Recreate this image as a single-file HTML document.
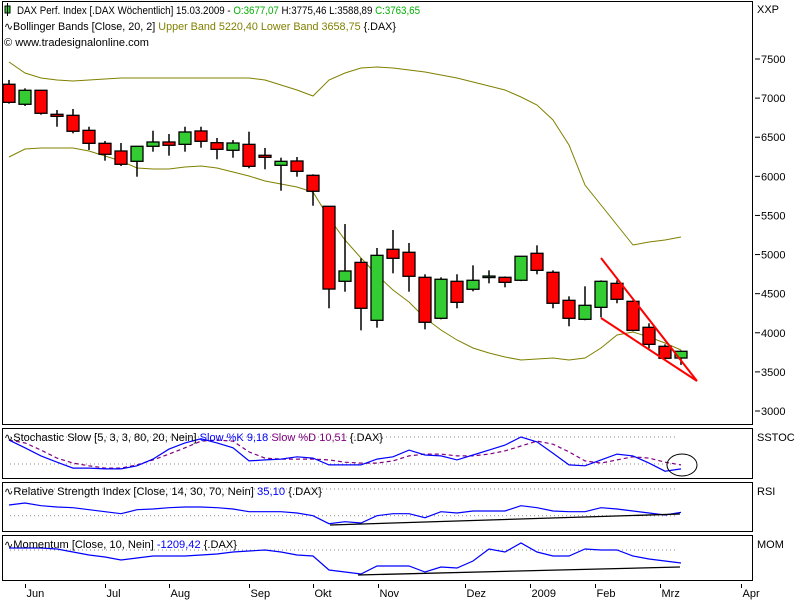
<!DOCTYPE html>
<html><head><meta charset="utf-8"><style>
html,body{margin:0;padding:0;background:#fff;}
svg{display:block;font-family:"Liberation Sans","DejaVu Sans",sans-serif;}
</style></head><body>
<svg id="chart" width="800" height="600" viewBox="0 0 800 600" xmlns="http://www.w3.org/2000/svg">
<rect x="0" y="0" width="800" height="600" fill="#fff"/>
<rect x="2.5" y="1.5" width="750" height="423" fill="none" stroke="#000"/>
<rect x="2.5" y="428.5" width="750" height="50" fill="none" stroke="#000"/>
<rect x="2.5" y="482.5" width="750" height="49" fill="none" stroke="#000"/>
<rect x="2.5" y="535.5" width="750" height="45" fill="none" stroke="#000"/>
<g id="price-axis" font-size="11"></g>
<g id="bands"></g>
<g id="candles"></g>
<g stroke="#ff0000" stroke-width="2" fill="none">
<line x1="601" y1="258" x2="697" y2="381"/><line x1="601" y1="318" x2="697" y2="381"/></g>
<g id="ind"></g>
<ellipse cx="682" cy="465" rx="15" ry="11" fill="none" stroke="#000"/>
<g id="xaxis" font-size="11"></g>
<g font-size="11" fill="#000">
<rect x="5" y="6" width="5" height="7" fill="#33cc33" stroke="#000"/>
<line x1="7.5" y1="3" x2="7.5" y2="16" stroke="#000"/>
<text x="17" y="14" textLength="403" lengthAdjust="spacingAndGlyphs">DAX Perf. Index [.DAX  Wöchentlich] 15.03.2009 - <tspan fill="#00b000">O:3677,07</tspan> H:3775,46 L:3588,89 <tspan fill="#00b000">C:3763,65</tspan></text>
<text x="4" y="30" textLength="392" lengthAdjust="spacingAndGlyphs">∿Bollinger Bands [Close, 20, 2] <tspan fill="#808000">Upper Band 5220,40 Lower Band 3658,75</tspan> {.DAX}</text>
<text x="4" y="46" textLength="145" lengthAdjust="spacingAndGlyphs">© www.tradesignalonline.com</text>
<text x="4" y="441" textLength="379" lengthAdjust="spacingAndGlyphs">∿Stochastic Slow [5, 3, 3, 80, 20, Nein] <tspan fill="#0000ff">Slow %K 9,18</tspan> <tspan fill="#800080">Slow %D 10,51</tspan> {.DAX}</text>
<text x="4" y="495" textLength="318" lengthAdjust="spacingAndGlyphs">∿Relative Strength Index [Close, 14, 30, 70, Nein] <tspan fill="#0000ff">35,10</tspan> {.DAX}</text>
<text x="4" y="548" textLength="233" lengthAdjust="spacingAndGlyphs">∿Momentum [Close, 10, Nein] <tspan fill="#0000ff">-1209,42</tspan> {.DAX}</text>
<text x="757" y="13">XXP</text>
<text x="757" y="441">SSTOC</text>
<text x="757" y="495">RSI</text>
<text x="757" y="548">MOM</text>
</g>
</svg>
<script>
const opens=[7177,6921,7100,6793,6780,6588,6422,6324,6192,6384,6439,6409,6580,6430,6333,6409,6269,6141,6196,6013,5617,4658,4900,4159,5067,5029,4709,4185,4658,4556,4715,4709,4671,5016,4773,4415,4172,4325,4632,4402,4070,3827,3677];
const highs=[7232,7125,7100,6848,6861,6634,6452,6426,6384,6583,6541,6634,6634,6490,6464,6571,6362,6238,6247,6026,5617,5390,4952,5084,5314,5148,4748,4709,4748,4862,4798,4720,4980,5118,4798,4466,4594,4670,4671,4415,4121,3852,3775];
const lows=[6929,6899,6788,6634,6550,6337,6200,6132,5995,6315,6264,6315,6366,6218,6238,6103,6090,5816,5995,5624,4313,4525,4031,4065,4760,4525,4044,4172,4313,4530,4632,4581,4660,4748,4313,4083,4160,4197,4377,4020,3801,3648,3589];
const closes=[6946,7100,6806,6767,6576,6422,6282,6154,6384,6439,6397,6567,6448,6345,6426,6128,6243,6192,6064,5809,4559,4790,4313,4990,4952,4722,4134,4684,4389,4671,4725,4645,4978,4798,4377,4185,4351,4658,4428,4031,3852,3674,3763];
const upperBand=[7462,7321,7257,7232,7219,7232,7244,7257,7257,7257,7257,7257,7257,7257,7257,7257,7232,7168,7104,7027,7232,7321,7385,7398,7385,7359,7334,7295,7257,7206,7155,7104,7014,6912,6720,6400,5889,5633,5378,5122,5160,5186,5224];
const lowerBand=[6247,6349,6362,6362,6362,6324,6260,6196,6106,6094,6094,6119,6132,6106,6055,6004,5940,5902,5863,5799,5467,5186,4956,4738,4547,4393,4189,4035,3908,3805,3741,3690,3652,3665,3677,3652,3677,3805,3971,4010,3946,3869,3780];
const priceTicks=[3000,3500,4000,4500,5000,5500,6000,6500,7000,7500];
const stochK=[73,56,38,24,11,11,9,9,16,31,53,67,76,67,56,27,29,31,36,33,18,18,18,31,36,51,40,38,29,40,51,62,80,69,44,18,16,29,42,38,22,4,9];
const stochD=[73,67,51,33,22,16,11,11,18,29,42,56,71,73,71,47,33,31,31,31,29,24,22,22,27,38,42,42,38,38,42,49,60,71,64,47,27,22,29,36,33,24,18];
const rsi=[46,49,45,43,42,39,36,33,39,40,42,43,43,42,40,36,36,36,34,30,18,21,19,30,33,33,27,36,34,37,37,37,45,42,37,36,36,42,40,37,34,31,35];
const momentum=[186,186,186,93,-186,-465,-651,-930,-744,-558,-558,-558,-465,-372,-186,-93,0,-186,-465,-558,-1860,-2046,-2232,-1488,-1488,-1488,-2046,-1581,-1674,-1023,93,-186,651,-186,-558,-558,93,0,0,-558,-837,-1023,-1209];
const monthLabels=["Jun","Jul","Aug","Sep","Okt","Nov","Dez","2009","Feb","Mrz","Apr"];
const monthIndex=[1,6,10,15,19,23.06,28.5,32.56,36.63,40.69,45.75];

const NS="http://www.w3.org/2000/svg";
const xOf=i=>9+16*i;
const yP=v=>59+(7500-v)*0.07822;
const yS=v=>464-(v-20)*0.45;
const yR=v=>515.7-(v-30)/1.5;
const yM=v=>550-v/93;
function mk(tag,attrs,parent){const e=document.createElementNS(NS,tag);for(const k in attrs)e.setAttribute(k,attrs[k]);parent.appendChild(e);return e;}
const pa=document.getElementById('price-axis');
priceTicks.forEach(v=>{const y=yP(v);
 const l=mk('line',{x1:755,x2:760,y1:y,y2:y,stroke:'#000'},pa);
 
 
 const t=mk('text',{x:761,y:y+4},pa);t.textContent=v;
 
 });
const bd=document.getElementById('bands');
[[upperBand,'upper-band'],[lowerBand,'lower-band']].forEach(([arr,n])=>{
 const p=mk('polyline',{points:arr.map((v,i)=>xOf(i)+','+yP(v).toFixed(1)).join(' '),fill:'none',stroke:'#808000','stroke-width':1},bd);
 
 });
const cg=document.getElementById('candles');
opens.forEach((o,i)=>{const c=closes[i],x=xOf(i);
 const g=mk('g',{},cg);
 
 
 mk('line',{x1:x,x2:x,y1:yP(highs[i]),y2:yP(lows[i]),stroke:'#000','stroke-width':1.5},g);
 const top=yP(Math.max(o,c)),bot=yP(Math.min(o,c));
 mk('rect',{x:x-6,y:top,width:12,height:Math.max(bot-top,1.5),fill:c>=o?'#33cc33':'#ff0000',stroke:'#000','stroke-width':1.3},g);});
const ig=document.getElementById('ind');
function dots(y,n){const l=mk('line',{x1:10,x2:678,y1:y,y2:y,stroke:'#888','stroke-dasharray':'1,3'},ig);
 
 }
dots(yS(80),'stoch-80-level');dots(yS(20),'stoch-20-level');
dots(yR(70),'rsi-70-level');dots(yR(30),'rsi-30-level');dots(yM(0),'momentum-zero-level');
function line(arr,yf,col,n,dash){const p=mk('polyline',{points:arr.map((v,i)=>xOf(i)+','+yf(v).toFixed(1)).join(' '),fill:'none',stroke:col,'stroke-width':1.2},ig);
 if(dash)p.setAttribute('stroke-dasharray',dash);
 
 }
line(stochD,yS,'#800080','stoch-d-line','4,3');
line(stochK,yS,'#0000ff','stoch-k-line');
line(rsi,yR,'#0000ff','rsi-line');
line(momentum,yM,'#0000ff','momentum-line');
const t1=mk('line',{x1:330,y1:525,x2:680,y2:514,stroke:'#000','stroke-width':1.3},ig);


const t2=mk('line',{x1:358,y1:575,x2:680,y2:567,stroke:'#000','stroke-width':1.3},ig);


const xa=document.getElementById('xaxis');
monthLabels.forEach((m,k)=>{const x=Math.round(xOf(monthIndex[k]))+0.5;
 const l=mk('line',{x1:x,x2:x,y1:584,y2:588,stroke:'#000'},xa);
 
 
 const t=mk('text',{x:x+1,y:597},xa);t.textContent=m;
 
 });
</script>
</body></html>
